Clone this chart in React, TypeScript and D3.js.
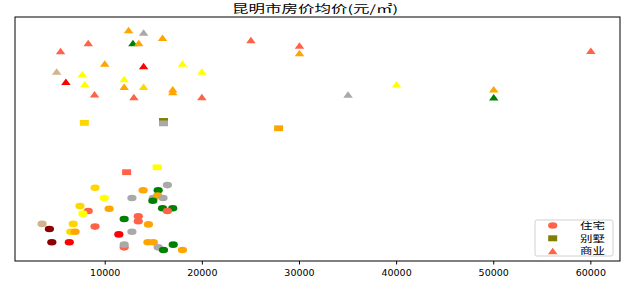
import React from "react";
import * as d3 from "d3";

// 住宅 (circles)
const houseX = [8950, 13900, 15450, 16400, 9900, 12750, 14950, 15400, 15950, 14900, 7400, 8250, 7700, 10400, 15900, 16950, 16400, 11950, 13400, 13400, 14450, 3500, 4250, 6700, 8950, 6450, 6900, 11400, 12750, 4500, 6300, 11950, 11950, 14400, 14950, 15450, 16000, 17000, 17950];
const houseY = [30.0, 29.0, 29.0, 31.1, 25.8, 25.8, 25.8, 26.8, 25.8, 24.7, 22.5, 20.5, 19.4, 21.4, 21.6, 21.6, 20.5, 17.2, 18.3, 16.3, 15.0, 15.2, 13.1, 15.2, 14.1, 12.0, 12.0, 10.9, 12.0, 7.7, 7.7, 5.6, 6.7, 7.7, 7.7, 5.6, 4.5, 6.7, 4.5];
const houseC = ["gold", "orange", "green", "darkgray", "yellow", "darkgray", "darkgray", "orange", "darkgray", "green", "gold", "tomato", "yellow", "orange", "green", "green", "tomato", "green", "tomato", "tomato", "orange", "tan", "darkred", "gold", "tomato", "gold", "orange", "red", "darkgray", "darkred", "red", "tomato", "darkgray", "orange", "orange", "darkgray", "green", "green", "orange"];

// 别墅 (squares)
const villaX = [16000, 7850, 16000, 27850, 12200, 15350];
const villaY = [57.4, 56.6, 56.4, 54.4, 36.4, 38.4];
const villaC = ["olive", "gold", "darkgray", "orange", "tomato", "yellow"];

// 商业 (triangles)
const shopX = [60000, 12400, 13950, 15900, 12850, 13450, 8250, 5400, 9950, 13950, 17950, 19950, 5000, 7650, 5950, 7900, 11950, 11950, 13950, 16950, 16950, 8900, 12950, 19950, 25000, 30000, 30000, 35000, 40000, 50000, 50000];
const shopY = [86.2, 94.7, 93.6, 91.5, 89.3, 89.3, 89.3, 86.1, 80.9, 79.9, 80.9, 77.7, 77.7, 76.6, 73.5, 72.5, 74.6, 71.4, 71.4, 70.4, 69.3, 68.3, 67.2, 67.2, 90.6, 88.3, 85.2, 68.2, 72.4, 70.4, 67.1];
const shopC = ["tomato", "orange", "darkgray", "orange", "green", "orange", "tomato", "tomato", "orange", "red", "yellow", "yellow", "tan", "yellow", "red", "yellow", "yellow", "orange", "gold", "orange", "orange", "tomato", "tomato", "tomato", "tomato", "tomato", "orange", "darkgray", "yellow", "orange", "green"];

const xTicks = [10000, 20000, 30000, 40000, 50000, 60000];
const legendLabels = ["住宅", "别墅", "商业"];
const legendColors = ["tomato", "olive", "tomato"];
const title = "昆明市房价均价(元/㎡)";

const W = 630, H = 282;
const L = 15, R = 620, T = 17, B = 261;

const cjk = "'Noto Sans CJK SC', sans-serif";

function tri(cx: number, cy: number, w: number, h: number) {
  return `M${cx},${cy - h / 2}L${cx + w / 2},${cy + h / 2}L${cx - w / 2},${cy + h / 2}Z`;
}

export default function App() {
  const x = d3.scaleLinear().domain([710, 63000]).range([L, R]);
  const y = d3.scaleLinear().domain([0, 100]).range([B, T]);

  return (
    <svg width={W} height={H} style={{ position: "absolute", left: 0, top: 0, background: "#fff" }}>
      <rect x={0} y={0} width={W} height={H} fill="#fff" />
      <text x={232} y={13} textLength={166} lengthAdjust="spacingAndGlyphs" fontFamily={cjk} fontSize={11} fill="#000">{title}</text>
      {houseX.map((v, i) => (
        <ellipse key={"h" + i} cx={x(v)} cy={y(houseY[i])} rx={4.6} ry={3.3} fill={houseC[i]} />
      ))}
      {villaX.map((v, i) => (
        <rect key={"v" + i} x={x(v) - 4.5} y={y(villaY[i]) - 2.9} width={9} height={5.8} fill={villaC[i]} />
      ))}
      {shopX.map((v, i) => (
        <path key={"s" + i} d={tri(x(v), y(shopY[i]), 9.5, 6.5)} fill={shopC[i]} />
      ))}
      <rect x={L} y={T} width={R - L} height={B - T} fill="none" stroke="#000" strokeWidth={1} />
      {xTicks.map((t) => (
        <g key={t}>
          <line x1={x(t)} x2={x(t)} y1={B} y2={B + 3.5} stroke="#000" strokeWidth={1} />
          <text x={x(t)} y={276} textAnchor="middle" fontFamily="'DejaVu Sans', sans-serif" fontSize={9.5} fill="#000">{t}</text>
        </g>
      ))}
      <rect x={535} y={220} width={78} height={36} rx={2} fill="#fff" fillOpacity={0.85} stroke="#d0d0d0" strokeWidth={1} />
      {legendLabels.map((lab, i) => {
        const cy = 225.5 + i * 12.8;
        return (
          <g key={lab}>
            {i === 0 && <ellipse cx={552.7} cy={cy} rx={4.6} ry={3.3} fill={legendColors[i]} />}
            {i === 1 && <rect x={548.2} y={cy - 3} width={9} height={6} fill={legendColors[i]} />}
            {i === 2 && <path d={tri(552.7, cy, 9.5, 6.5)} fill={legendColors[i]} />}
            <text x={580} y={cy + 3.2} textLength={25} lengthAdjust="spacingAndGlyphs" fontFamily={cjk} fontSize={8.6} fill="#000">{lab}</text>
          </g>
        );
      })}
    </svg>
  );
}
